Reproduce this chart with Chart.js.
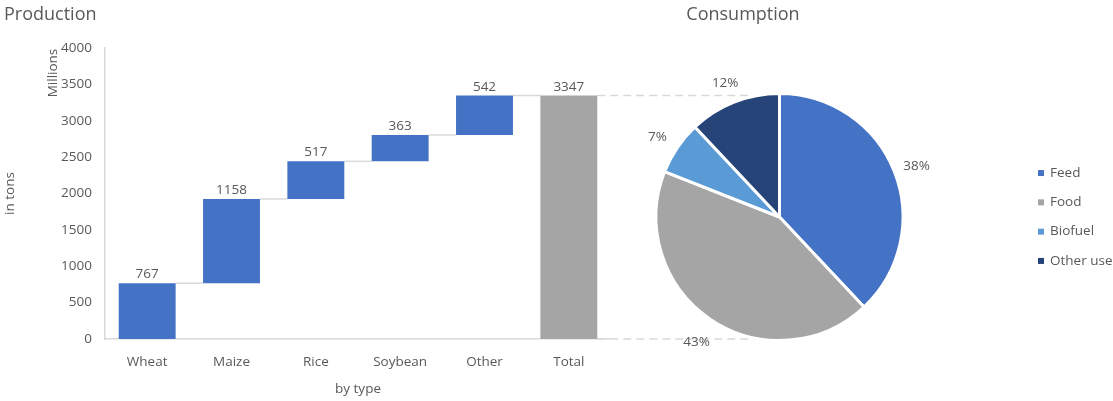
<!DOCTYPE html>
<html>
<head>
<meta charset="utf-8">
<script src="https://cdn.jsdelivr.net/npm/chart.js@4"></script>
<style>
  html, body { margin: 0; padding: 0; background: #fff; }
  #wrap { position: relative; width: 1113px; height: 401px; }
  #wrap canvas { position: absolute; left: 0; top: 0; }
</style>
</head>
<body>
<div id="wrap">
  <canvas id="production" width="1113" height="401"></canvas>
  <canvas id="consumption" width="1113" height="401"></canvas>
</div>
<script>
// production by crop type, millions of tons
const categories = ['Wheat', 'Maize', 'Rice', 'Soybean', 'Other', 'Total'];
const production = [767, 1158, 517, 363, 542];
const totalProduction = 3347;
const yTicks = [0, 500, 1000, 1500, 2000, 2500, 3000, 3500, 4000];

// consumption shares, percent
const useLabels = ['Feed', 'Food', 'Biofuel', 'Other use'];
const useShares = [38, 43, 7, 12];

const TEXT = '#595959';
const LINE = '#D9D9D9';
const FONT = "'Open Sans', 'Noto Sans', sans-serif";
const SIZE = 13.5;
const BLUE = '#4472C4';
const GREY = '#A5A5A5';
const useColors = [BLUE, GREY, '#5B9BD5', '#264478'];

Chart.defaults.font.family = FONT;
Chart.defaults.color = TEXT;

// waterfall: each step floats on top of the running sum
let running = 0;
const steps = production.map(v => {
    const seg = [running, running + v];
    running += v;
    return seg;
});
steps.push([0, totalProduction]);
const stepLabels = [...production, totalProduction];
const barColors = categories.map((c, i) => i === categories.length - 1 ? GREY : BLUE);

const waterfallExtras = {
    id: 'waterfallExtras',
    beforeDatasetsDraw(chart) {
        const ctx = chart.ctx;
        const bars = chart.getDatasetMeta(0).data;
        const y = chart.scales.y;
        ctx.save();
        ctx.strokeStyle = LINE;
        ctx.lineWidth = 1.5;
        for (let i = 0; i < bars.length - 1; i++) {
            const level = y.getPixelForValue(steps[i][1]);
            ctx.beginPath();
            ctx.moveTo(bars[i].x + bars[i].width / 2, level);
            ctx.lineTo(bars[i + 1].x - bars[i + 1].width / 2, level);
            ctx.stroke();
        }
        ctx.restore();
    },
    afterDatasetsDraw(chart) {
        const ctx = chart.ctx;
        const bars = chart.getDatasetMeta(0).data;
        ctx.save();
        ctx.fillStyle = TEXT;
        ctx.font = `${SIZE}px ${FONT}`;
        ctx.textAlign = 'center';
        ctx.textBaseline = 'bottom';
        bars.forEach((bar, i) => {
            ctx.fillText(String(stepLabels[i]), bar.x, Math.min(bar.y, bar.base) - 2);
        });
        // chart title
        ctx.textAlign = 'left';
        ctx.textBaseline = 'middle';
        ctx.font = `18px ${FONT}`;
        ctx.fillText('Production', 4, 15);
        // display unit label
        ctx.font = `${SIZE}px ${FONT}`;
        ctx.translate(53, 73);
        ctx.rotate(-Math.PI / 2);
        ctx.textAlign = 'center';
        ctx.fillText('Millions', 0, 0);
        ctx.restore();
    }
};

const barChart = new Chart(document.getElementById('production'), {
    type: 'bar',
    data: {
        labels: categories,
        datasets: [{
            data: steps,
            backgroundColor: barColors,
            borderWidth: 0,
            categoryPercentage: 1,
            barPercentage: 0.675
        }]
    },
    options: {
        responsive: false,
        animation: false,
        events: [],
        layout: { padding: { top: 48, right: 502, left: 0, bottom: 0 } },
        plugins: {
            legend: { display: false },
            tooltip: { enabled: false }
        },
        scales: {
            x: {
                grid: { display: false },
                border: { display: true, color: LINE, width: 1.5 },
                ticks: { color: TEXT, font: { size: SIZE }, padding: 7 },
                title: { display: true, text: 'by type', color: TEXT, font: { size: SIZE }, padding: { top: 11 } },
                afterFit: s => { s.height = 62; }
            },
            y: {
                min: 0,
                max: yTicks[yTicks.length - 1],
                grid: { display: false },
                border: { display: true, color: LINE, width: 1.5 },
                afterBuildTicks: s => { s.ticks = yTicks.map(v => ({ value: v })); },
                ticks: { color: TEXT, font: { size: SIZE }, padding: 5, callback: v => String(v) },
                title: { display: true, text: 'in tons', color: TEXT, font: { size: SIZE }, padding: { top: 2, bottom: 4 } },
                afterFit: s => { s.width = 105; }
            }
        }
    },
    plugins: [waterfallExtras]
});

const pieExtras = {
    id: 'pieExtras',
    beforeDatasetsDraw(chart) {
        // dashed guides from the total bar to the pie
        const ctx = chart.ctx;
        const arc = chart.getDatasetMeta(0).data[0];
        const bars = barChart.getDatasetMeta(0).data;
        const total = bars[bars.length - 1];
        const y = barChart.scales.y;
        ctx.save();
        ctx.strokeStyle = LINE;
        ctx.lineWidth = 1.5;
        ctx.setLineDash([8, 5]);
        [totalProduction, 0].forEach(v => {
            const py = y.getPixelForValue(v);
            ctx.beginPath();
            ctx.moveTo(total.x + total.width / 2, py);
            ctx.lineTo(arc.x, py);
            ctx.stroke();
        });
        ctx.restore();
    },
    afterDatasetsDraw(chart) {
        const ctx = chart.ctx;
        const arcs = chart.getDatasetMeta(0).data;
        const sum = useShares.reduce((a, b) => a + b, 0);
        ctx.save();
        ctx.font = `${SIZE}px ${FONT}`;
        ctx.fillStyle = TEXT;
        ctx.textAlign = 'center';
        ctx.textBaseline = 'middle';
        arcs.forEach((a, i) => {
            const mid = (a.startAngle + a.endAngle) / 2;
            const r = a.outerRadius + 24;
            const txt = Math.round(useShares[i] / sum * 100) + '%';
            ctx.fillText(txt, a.x + Math.cos(mid) * r, a.y + Math.sin(mid) * r + 3);
        });
        // title
        ctx.font = `18px ${FONT}`;
        ctx.fillText('Consumption', 743, 15);
        // legend
        ctx.font = `${SIZE}px ${FONT}`;
        ctx.textAlign = 'left';
        useLabels.forEach((label, i) => {
            const ry = 217 + (i - 1.5) * 29.3;
            ctx.fillStyle = useColors[i];
            ctx.fillRect(1038, ry - 3, 6, 6);
            ctx.fillStyle = TEXT;
            ctx.fillText(label, 1050, ry);
        });
        ctx.restore();
    }
};

new Chart(document.getElementById('consumption'), {
    type: 'pie',
    data: {
        labels: useLabels,
        datasets: [{
            data: useShares,
            backgroundColor: useColors,
            borderColor: '#ffffff',
            borderWidth: 3,
            hoverOffset: 0
        }]
    },
    options: {
        responsive: false,
        animation: false,
        events: [],
        layout: { padding: { left: 654, right: 208, top: 92, bottom: 59 } },
        plugins: {
            legend: { display: false },
            tooltip: { enabled: false }
        }
    },
    plugins: [pieExtras]
});
</script>
</body>
</html>
